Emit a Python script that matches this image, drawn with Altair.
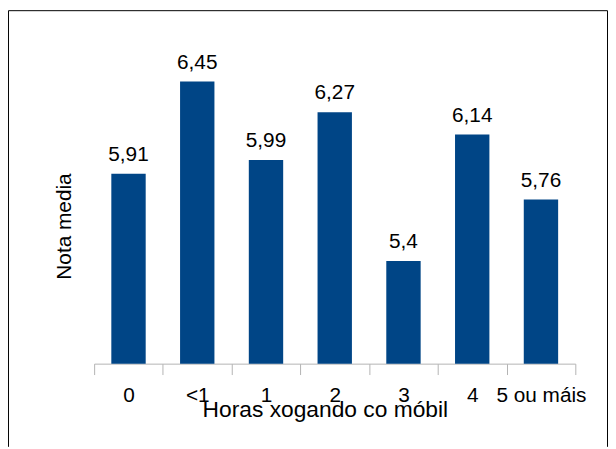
import altair as alt
import pandas as pd

categories = ["0", "<1", "1", "2", "3", "4", "5 ou máis"]
values = [5.91, 6.45, 5.99, 6.27, 5.4, 6.14, 5.76]
labels = [str(v).replace(".", ",") for v in values]

df = pd.DataFrame({"cat": categories, "val": values, "label": labels})

FONT = "Liberation Sans"
W, H = 486, 311
PAD_L, PAD_T = 87, 46
TOTAL_W, TOTAL_H = 606, 441

xenc = alt.X(
    "cat:N",
    sort=categories,
    scale=alt.Scale(paddingInner=0, paddingOuter=0),
    axis=alt.Axis(
        title="Horas xogando co móbil",
        labelAngle=0,
        tickBand="extent",
        tickSize=11,
        tickColor="#b3b3b3",
        domainColor="#b3b3b3",
        labelFont=FONT,
        labelFontSize=21,
        labelColor="black",
        labelBaseline="alphabetic",
        labelPadding=27,
        labelOverlap=False,
        titleFont=FONT,
        titleFontSize=23,
        titleFontWeight="normal",
        titleColor="black",
        titleX=233,
        titleY=53,
        titleBaseline="alphabetic",
        titleAlign="center",
    ),
)
yscale = alt.Scale(domain=[4.8, 6.6])

base = alt.Chart(df).encode(x=xenc)

bars = base.mark_bar(color="#004586", width=alt.RelativeBandSize(0.5)).encode(
    y=alt.Y("val:Q", scale=yscale, axis=None),
    y2=alt.datum(4.8),
)

text = base.mark_text(
    dy=-13, baseline="alphabetic", fontSize=21, font=FONT, color="black"
).encode(y=alt.Y("val:Q", scale=yscale), text="label:N")

one = pd.DataFrame({"a": [0]})
ytitle = alt.Chart(one).mark_text(
    angle=270, baseline="alphabetic", align="center", fontSize=21, font=FONT, color="black"
).encode(x=alt.value(-23), y=alt.value(226.5 - 54), text=alt.value("Nota media"))

left = -PAD_L + 0.5
right = TOTAL_W - PAD_L - 0.5
top = -PAD_T + 0.5
bottom = TOTAL_H - PAD_T
frame_l = alt.Chart(one).mark_rule(color="black", strokeWidth=1).encode(
    x=alt.value(left), y=alt.value(top), y2=alt.value(bottom)
)
frame_r = alt.Chart(one).mark_rule(color="black", strokeWidth=1).encode(
    x=alt.value(right), y=alt.value(top), y2=alt.value(bottom)
)
frame_t = alt.Chart(one).mark_rule(color="black", strokeWidth=1).encode(
    x=alt.value(left), x2=alt.value(right), y=alt.value(top)
)

chart = (
    alt.layer(bars, text, ytitle, frame_l, frame_r, frame_t)
    .properties(
        width=W,
        height=H,
        autosize=alt.AutoSizeParams(type="none"),
        padding={"left": PAD_L, "top": PAD_T, "right": TOTAL_W - PAD_L - W, "bottom": TOTAL_H - PAD_T - H},
    )
    .configure_view(stroke=None)
)

chart.save("out.html", embed_options={"renderer": "svg", "actions": False})
